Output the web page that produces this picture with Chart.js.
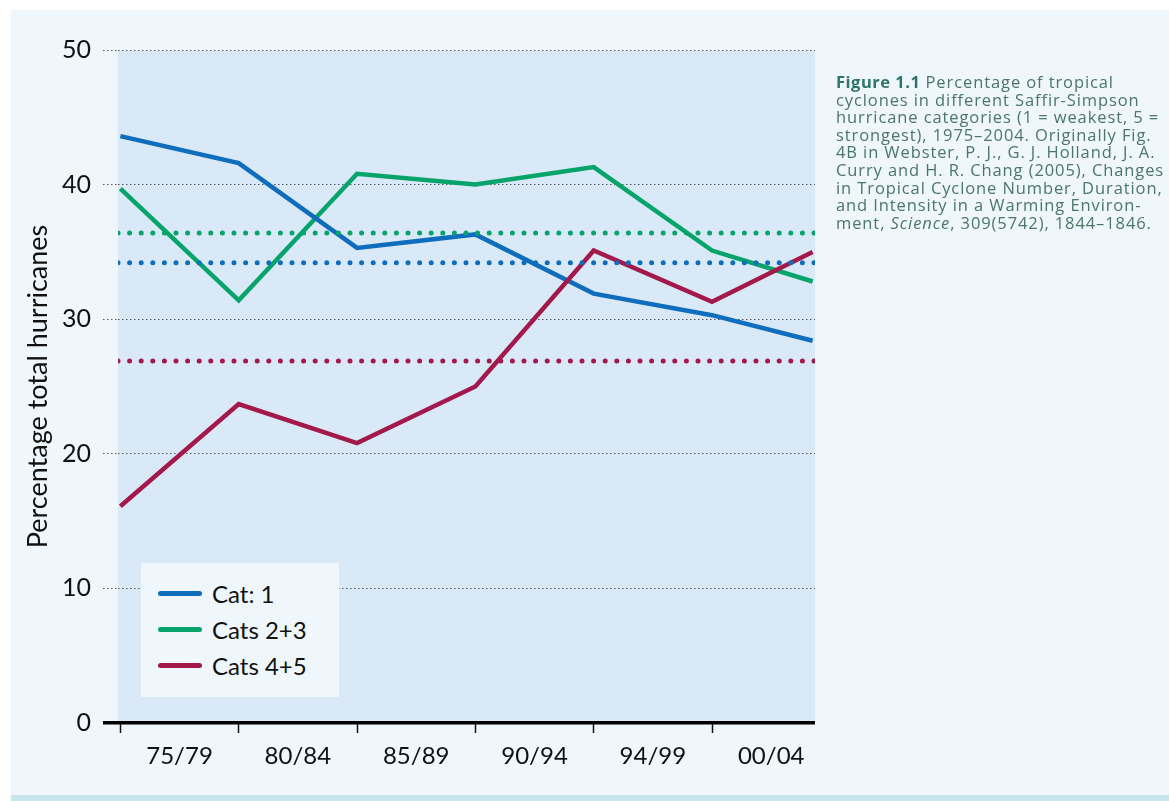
<!DOCTYPE html>
<html>
<head>
<meta charset="utf-8">
<script src="https://cdn.jsdelivr.net/npm/chart.js@4/dist/chart.umd.min.js"></script>
<style>
    html, body { margin: 0; padding: 0; background: #ffffff; }
    .page {
        position: relative;
        width: 1169px;
        height: 801px;
        overflow: hidden;
    }
    .panel {
        position: absolute;
        left: 11px; top: 10px; right: 0; bottom: 6px;
        background: #eff7fd;
    }
    .strip {
        position: absolute;
        left: 11px; right: 0; bottom: 0; height: 6px;
        background: #c6e8eb;
    }
    #chart { position: absolute; left: 0; top: 0; }
    .chart-legend {
        position: absolute;
        left: 141px; top: 563px; width: 198px; height: 134px;
        background: #eff7fd;
        font-family: Lato, sans-serif;
        font-size: 24px;
        color: #111;
    }
    .chart-legend ul { list-style: none; margin: 0; padding: 12px 0 0 17px; }
    .chart-legend li { height: 36px; display: flex; align-items: center; }
    .legend-box {
        display: inline-block; width: 44px; height: 5px; border-radius: 3px;
        margin-right: 10px;
    }
    .caption {
        position: absolute;
        left: 836px; top: 73px; width: 340px;
        font-family: "Open Sans", sans-serif;
        font-size: 16.5px;
        letter-spacing: 0.9px;
        line-height: 17.6px;
        color: #4b7668;
        white-space: nowrap;
    }
    .caption b { color: #2f7468; letter-spacing: 0.5px; }
</style>
</head>
<body>
<div class="page">
    <div class="panel"></div>
    <div class="strip"></div>
    <canvas id="chart" width="1169" height="801"></canvas>
    <div class="chart-legend" data-chart-id="chart"></div>
    <div class="caption">
        <b>Figure 1.1</b> Percentage of tropical<br>
        cyclones in different Saffir-Simpson<br>
        hurricane categories (1 = weakest, 5 =<br>
        strongest), 1975–2004. Originally Fig.<br>
        4B in Webster, P. J., G. J. Holland, J. A.<br>
        Curry and H. R. Chang (2005), Changes<br>
        in Tropical Cyclone Number, Duration,<br>
        and Intensity in a Warming Environ-<br>
        ment, <i>Science</i>, 309(5742), 1844–1846.
    </div>
</div>
<script>
(function () {
    const periods = ['75/79', '80/84', '85/89', '90/94', '94/99', '00/04'];
    // period boundaries the lines are plotted at (last one sits at the axis end)
    const pointIndex = [0, 1, 2, 3, 4, 5, 5.85];

    const cat1 = [43.6, 41.6, 35.3, 36.3, 31.9, 30.3, 28.4];
    const cats23 = [39.7, 31.4, 40.8, 40.0, 41.3, 35.1, 32.8];
    const cats45 = [16.1, 23.7, 20.8, 25.0, 35.1, 31.3, 35.0];

    const meanCat1 = 34.2;
    const meanCats23 = 36.4;
    const meanCats45 = 26.9;

    const yTicks = [0, 10, 20, 30, 40, 50];

    const seriesNames = ['Cat: 1', 'Cats 2+3', 'Cats 4+5'];
    const colors = ['#0e6dbd', '#06a46b', '#a3194b'];

    const xMin = -0.02;
    const xMax = 5.87;

    const fontFamily = 'Lato, sans-serif';

    function toPoints(values) {
        return values.map((v, i) => ({ x: pointIndex[i], y: v }));
    }

    function meanLine(value, color) {
        return {
            label: 'mean',
            data: [{ x: xMin, y: value }, { x: xMax, y: value }],
            borderColor: color,
            borderWidth: 5,
            borderDash: [0, 11.6],
            borderCapStyle: 'round',
            pointRadius: 0,
            fill: false
        };
    }

    const plotBackground = {
        id: 'plotBackground',
        beforeDraw(chart) {
            const a = chart.chartArea;
            const ctx = chart.ctx;
            ctx.save();
            ctx.fillStyle = '#dae9f7';
            ctx.fillRect(a.left, a.top, a.right - a.left, a.bottom - a.top);
            ctx.restore();
        }
    };

    const lineSets = [cat1, cats23, cats45].map((values, i) => ({
        label: seriesNames[i],
        data: toPoints(values),
        borderColor: colors[i],
        borderWidth: 4.5,
        borderJoinStyle: 'miter',
        pointRadius: 0,
        tension: 0,
        fill: false
    }));

    const canvas = document.getElementById('chart');

    const chart = new Chart(canvas, {
        type: 'line',
        data: {
            datasets: [
                meanLine(meanCats45, colors[2]),
                meanLine(meanCat1, colors[0]),
                meanLine(meanCats23, colors[1]),
                lineSets[2],
                lineSets[0],
                lineSets[1]
            ]
        },
        options: {
            responsive: false,
            animation: false,
            devicePixelRatio: 1,
            layout: { padding: { left: 0, top: 50, right: 354, bottom: 0 } },
            plugins: {
                legend: { display: false },
                tooltip: { enabled: false }
            },
            scales: {
                x: {
                    type: 'linear',
                    min: xMin,
                    max: xMax,
                    afterBuildTicks: (scale) => {
                        const ticks = [];
                        periods.forEach((p, i) => {
                            ticks.push({ value: i });
                            ticks.push({ value: i + 0.5 });
                        });
                        scale.ticks = ticks;
                    },
                    afterFit: (scale) => { scale.height = 78; },
                    grid: {
                        drawOnChartArea: false,
                        tickLength: 10,
                        tickWidth: 1.5,
                        tickColor: (ctx) => (ctx.tick && ctx.tick.value % 1 === 0) ? '#111' : 'rgba(0,0,0,0)'
                    },
                    border: { display: false },
                    ticks: {
                        autoSkip: false,
                        maxRotation: 0,
                        padding: 9,
                        color: '#111',
                        font: { family: fontFamily, size: 24 },
                        callback: (value) => {
                            const i = Math.floor(value);
                            return value % 1 !== 0 ? periods[i] : '';
                        }
                    }
                },
                y: {
                    min: 0,
                    max: 50,
                    afterBuildTicks: (scale) => {
                        scale.ticks = yTicks.map(v => ({ value: v }));
                    },
                    afterFit: (scale) => { scale.width = 118; },
                    grid: {
                        color: (ctx) => ctx.tick.value === 0 ? '#000' : '#555',
                        lineWidth: (ctx) => ctx.tick.value === 0 ? 3.5 : 1,
                        tickLength: 15,
                        tickColor: (ctx) => ctx.tick.value === 0 ? '#000' : '#555',
                        tickWidth: (ctx) => ctx.tick.value === 0 ? 3.5 : 1,
                        tickBorderDash: (ctx) => ctx.tick.value === 0 ? [] : [1.5, 2.5]
                    },
                    border: {
                        display: false,
                        dash: (ctx) => ctx.tick.value === 0 ? [] : [1.5, 2.5]
                    },
                    ticks: {
                        padding: 12,
                        color: '#111',
                        font: { family: fontFamily, size: 25 }
                    },
                    title: {
                        display: true,
                        text: 'Percentage total hurricanes',
                        color: '#111',
                        font: { family: fontFamily, size: 27 },
                        padding: { top: 22, bottom: 0 }
                    }
                }
            }
        },
        plugins: [plotBackground]
    });

    function buildVerticalLegend(container) {
        const ul = document.createElement('ul');
        lineSets.forEach(ds => {
            const li = document.createElement('li');
            const box = document.createElement('span');
            box.classList.add('legend-box');
            box.style.backgroundColor = ds.borderColor;
            const label = document.createElement('span');
            label.textContent = ds.label;
            li.appendChild(box);
            li.appendChild(label);
            ul.appendChild(li);
        });
        container.appendChild(ul);
    }

    buildVerticalLegend(document.querySelector('.chart-legend[data-chart-id="chart"]'));
})();
</script>
</body>
</html>
